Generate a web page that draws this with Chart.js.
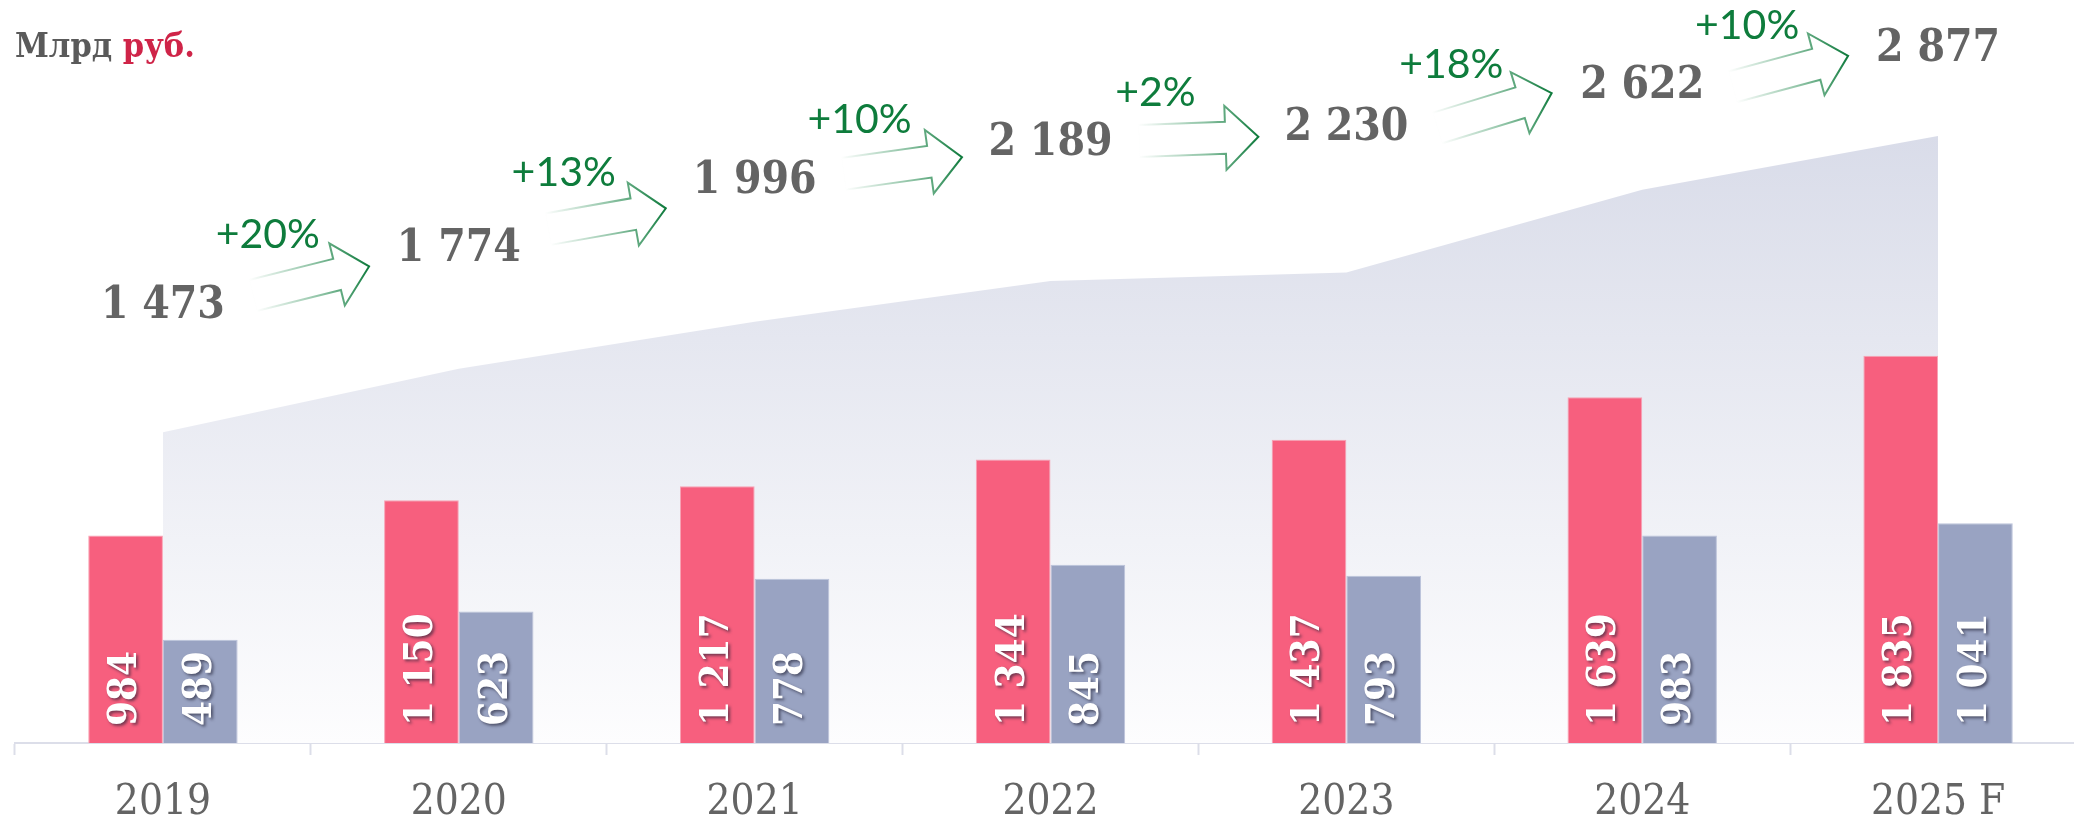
<!DOCTYPE html>
<html lang="ru">
<head>
<meta charset="utf-8">
<title>Млрд руб.</title>
<script src="https://cdn.jsdelivr.net/npm/chart.js@4.4.1/dist/chart.umd.min.js"></script>
<style>
  html, body { margin: 0; padding: 0; background: #fff; overflow: hidden; }
  #chart { display: block; }
</style>
</head>
<body>
<canvas id="chart" width="2090" height="819"></canvas>
<script>
const years = ['2019', '2020', '2021', '2022', '2023', '2024', '2025 F'];
const seriesA = [984, 1150, 1217, 1344, 1437, 1639, 1835];
const seriesB = [489, 623, 778, 845, 793, 983, 1041];
const totals = [1473, 1774, 1996, 2189, 2230, 2622, 2877];
const growth = ['+20%', '+13%', '+10%', '+2%', '+18%', '+10%'];

// how far each total sits above its area point, and each arrow's tilt
const totalLift = [126, 119, 140, 138, 144, 103, 86];
const arrowTilt = [-14, -10, -8, -2, -17, -15];

const SERIF = "'DejaVu Serif Condensed', 'DejaVu Serif', serif";
const SANS = "Lato, 'Open Sans', sans-serif";
const fmt = v => String(v).replace(/\B(?=(\d{3})+(?!\d))/g, ' ');

function drawArrow(ctx, cx, cy, deg) {
  const L = 120, sw = 16, hw = 32, hl = 33;
  ctx.save();
  ctx.translate(cx, cy);
  ctx.rotate(deg * Math.PI / 180);
  const g = ctx.createLinearGradient(-L / 2, 0, L / 2, 0);
  g.addColorStop(0, 'rgba(30,135,75,0)');
  g.addColorStop(0.55, 'rgba(30,135,75,0.5)');
  g.addColorStop(1, 'rgba(14,122,60,1)');
  ctx.strokeStyle = g;
  ctx.lineWidth = 2;
  ctx.beginPath();
  ctx.moveTo(-L / 2, -sw);
  ctx.lineTo(L / 2 - hl, -sw);
  ctx.lineTo(L / 2 - hl, -hw);
  ctx.lineTo(L / 2, 0);
  ctx.lineTo(L / 2 - hl, hw);
  ctx.lineTo(L / 2 - hl, sw);
  ctx.lineTo(-L / 2, sw);
  ctx.closePath();
  ctx.stroke();
  ctx.restore();
}

const annotations = {
  id: 'annotations',
  afterDatasetsDraw(chart) {
    const ctx = chart.ctx;
    // values written up the bars
    [0, 1].forEach(di => {
      chart.getDatasetMeta(di).data.forEach((bar, i) => {
        ctx.save();
        ctx.translate(bar.x, bar.base - 17);
        ctx.rotate(-Math.PI / 2);
        ctx.font = `bold 40px ${SERIF}`;
        ctx.textAlign = 'left';
        ctx.textBaseline = 'middle';
        ctx.shadowColor = 'rgba(30,30,50,0.6)';
        ctx.shadowOffsetX = 2;
        ctx.shadowOffsetY = 2;
        ctx.shadowBlur = 3;
        ctx.fillStyle = '#fff';
        ctx.fillText(fmt(chart.data.datasets[di].data[i]), 0, 0);
        ctx.restore();
      });
    });
  },
  afterDraw(chart) {
    const ctx = chart.ctx;
    const { x, y } = chart.scales;

    // totals above the area
    const centers = totals.map((t, i) => ({
      x: x.getPixelForValue(i),
      y: y.getPixelForValue(t) - totalLift[i]
    }));
    ctx.save();
    ctx.font = `bold 44px ${SERIF}`;
    ctx.fillStyle = '#646464';
    ctx.textAlign = 'center';
    ctx.textBaseline = 'middle';
    centers.forEach((c, i) => ctx.fillText(fmt(totals[i]), c.x, c.y));
    ctx.restore();

    // growth arrows with percentages
    growth.forEach((txt, i) => {
      const a = centers[i], b = centers[i + 1];
      const mx = (a.x + b.x) / 2, my = (a.y + b.y) / 2 + 3;
      drawArrow(ctx, mx, my, arrowTilt[i]);
      ctx.save();
      ctx.font = `41px ${SANS}`;
      ctx.fillStyle = '#0e7c3c';
      ctx.textAlign = 'center';
      ctx.textBaseline = 'middle';
      ctx.fillText(txt, mx - 43, my - 46);
      ctx.restore();
    });

    // unit caption
    ctx.save();
    ctx.font = `bold 34px ${SERIF}`;
    ctx.textBaseline = 'alphabetic';
    ctx.textAlign = 'left';
    ctx.fillStyle = '#5a5a5a';
    ctx.fillText('Млрд ', 15, 57);
    const w = ctx.measureText('Млрд ').width;
    ctx.fillStyle = '#cf2448';
    ctx.fillText('руб.', 15 + w, 57);
    ctx.restore();
  }
};

new Chart(document.getElementById('chart'), {
  type: 'bar',
  data: {
    labels: years,
    datasets: [
      {
        data: seriesA,
        backgroundColor: '#f75f7e',
        borderColor: '#f8a2b4',
        borderWidth: 1,
        barPercentage: 1,
        categoryPercentage: 0.505,
        order: 1
      },
      {
        data: seriesB,
        backgroundColor: '#99a3c2',
        borderColor: '#bcc3da',
        borderWidth: 1,
        barPercentage: 1,
        categoryPercentage: 0.505,
        order: 2
      },
      {
        type: 'line',
        data: totals,
        fill: 'origin',
        borderWidth: 0,
        pointRadius: 0,
        tension: 0,
        order: 3,
        backgroundColor(c) {
          const { chart } = c;
          const { chartArea, scales } = chart;
          if (!chartArea) return 'rgb(228,230,239)';
          const top = scales.y.getPixelForValue(Math.max(...totals));
          const g = chart.ctx.createLinearGradient(0, top, 0, chartArea.bottom);
          g.addColorStop(0, 'rgb(217,220,233)');
          g.addColorStop(1, 'rgb(253,253,254)');
          return g;
        }
      }
    ]
  },
  options: {
    responsive: false,
    animation: false,
    layout: { padding: { top: 110, left: 15, right: 4, bottom: 0 } },
    plugins: {
      legend: { display: false },
      tooltip: { enabled: false }
    },
    scales: {
      x: {
        offset: true,
        grid: {
          offset: true,
          drawOnChartArea: false,
          drawTicks: true,
          tickLength: 12,
          tickWidth: 2,
          tickColor: '#dcdee9'
        },
        border: { display: true, color: '#dcdee9', width: 2 },
        ticks: {
          color: '#646464',
          font: { family: SERIF, size: 42 },
          padding: 23,
          maxRotation: 0,
          autoSkip: false
        },
        afterFit(scale) { scale.height = 76; }
      },
      y: { display: false, min: 0, max: 3000 }
    }
  },
  plugins: [annotations]
});
</script>
</body>
</html>
